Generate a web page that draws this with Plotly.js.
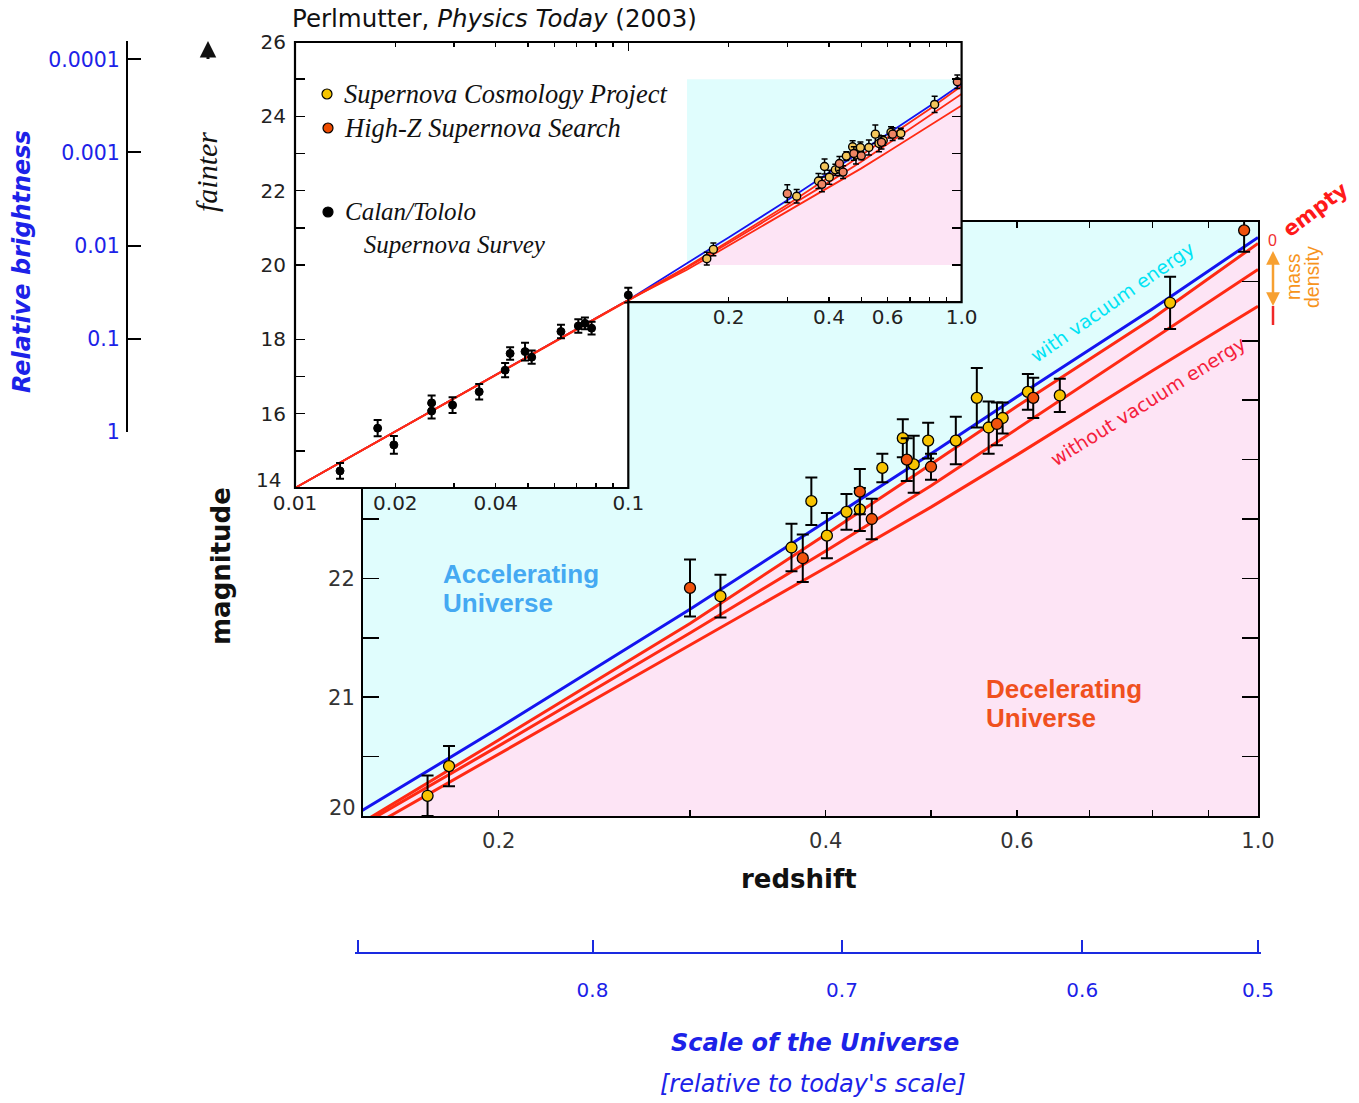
<!DOCTYPE html>
<html>
<head>
<meta charset="utf-8">
<script src="https://cdn.plot.ly/plotly-3.0.1.min.js"></script>
<style>
html,body{margin:0;padding:0;background:#fff;}
#chart{width:1359px;height:1103px;}
</style>
</head>
<body>
<div id="chart"></div>
<script>
// ================= DATA =================
// Supernova Cosmology Project (yellow)
const scpZ   = [0.172, 0.180, 0.320, 0.372, 0.388, 0.401, 0.418, 0.430, 0.451, 0.471, 0.482, 0.497, 0.527, 0.551, 0.565, 0.582, 0.614, 0.657, 0.830];
const scpMag = [20.17, 20.42, 21.85, 22.26, 22.65, 22.36, 22.56, 22.58, 22.93, 23.18, 22.96, 23.16, 23.16, 23.52, 23.27, 23.35, 23.57, 23.54, 24.32];
const scpErr = [0.17, 0.17, 0.18, 0.20, 0.20, 0.19, 0.15, 0.18, 0.12, 0.16, 0.24, 0.15, 0.20, 0.25, 0.22, 0.13, 0.15, 0.14, 0.22];
// High-Z Supernova Search (orange-red)
const hzZ   = [0.300, 0.381, 0.430, 0.441, 0.475, 0.500, 0.575, 0.621, 0.971];
const hzMag = [21.92, 22.17, 22.73, 22.50, 23.00, 22.94, 23.30, 23.52, 24.93];
const hzErr = [0.24, 0.20, 0.19, 0.17, 0.18, 0.11, 0.18, 0.17, 0.18];
// Calan/Tololo Supernova Survey (black, inset only)
const ctZ   = [0.01365, 0.0177, 0.0198, 0.0257, 0.0257, 0.0297, 0.0357, 0.0427, 0.0442, 0.0490, 0.0513, 0.0628, 0.0708, 0.0741, 0.0776, 0.100];
const ctMag = [14.46, 15.61, 15.16, 16.29, 16.07, 16.23, 16.59, 17.17, 17.62, 17.67, 17.52, 18.21, 18.36, 18.43, 18.30, 19.19];
const ctErr = [0.21, 0.22, 0.24, 0.20, 0.20, 0.21, 0.21, 0.19, 0.17, 0.24, 0.18, 0.18, 0.18, 0.16, 0.17, 0.20];
// Model curves (magnitude vs redshift)
const modelZ      = [0.01, 0.1, 0.15, 0.2, 0.3, 0.4, 0.5, 0.6, 0.8, 1.0];
const vacuumMag   = [14.0, 19.06, 20.05, 20.74, 21.74, 22.48, 23.05, 23.53, 24.27, 24.87]; // with vacuum energy
const emptyMag    = [14.0, 19.06, 19.95, 20.64, 21.62, 22.37, 22.96, 23.45, 24.19, 24.82]; // empty universe
const midMassMag  = [14.0, 19.06, 19.93, 20.59, 21.54, 22.23, 22.78, 23.26, 24.01, 24.60];
const fullMassMag = [14.0, 19.06, 19.87, 20.52, 21.44, 22.09, 22.60, 23.04, 23.75, 24.29]; // without vacuum energy

// Tick values / labels
const mainZTicks     = [0.2, 0.3, 0.4, 0.5, 0.6, 0.7, 0.8, 0.9, 1.0];
const mainZLabels    = ['0.2', '', '0.4', '', '0.6', '', '', '', '1.0'];
const mainMagTicks   = [20, 20.5, 21, 21.5, 22, 22.5, 23, 23.5, 24, 24.5, 25];
const mainMagLabels  = ['', '', '21', '', '22', '', '', '', '', '', ''];   // "20" drawn raised, below; 23-25 lie under the inset
const insetLowZTicks = [0.01, 0.02, 0.03, 0.04, 0.05, 0.06, 0.07, 0.08, 0.09, 0.1];
const insetLowZLabels= ['0.01', '0.02', '', '0.04', '', '', '', '', '', '0.1'];
const insetHighZTicks  = [0.2, 0.3, 0.4, 0.5, 0.6, 0.7, 0.8, 0.9, 1.0];
const insetHighZLabels = ['0.2', '', '0.4', '', '0.6', '', '', '', '1.0'];
const insetDecadeTicks = [0.01, 0.1, 1.0];
const insetMinorTicks  = [0.02, 0.03, 0.04, 0.05, 0.06, 0.07, 0.08, 0.09, 0.2, 0.3, 0.4, 0.5, 0.6, 0.7, 0.8, 0.9];
const insetUpperMagTicks  = [19, 20, 21, 22, 23, 24, 25, 26];
const insetUpperMagLabels = ['', '20', '', '22', '', '24', '', '26'];
const insetLowerMagTicks  = [14, 15, 16, 17, 18];
const insetLowerMagLabels = ['', '', '16', '', '18'];                           // "14" drawn raised, below
const brightnessTicks  = [1, 0.1, 0.01, 0.001, 0.0001];
const brightnessLabels = ['1', '0.1', '0.01', '0.001', '0.0001'];
const scaleTickZ      = [0.1485, 0.244, 0.414, 0.689, 1.0];
const scaleTickLabels = ['', '0.8', '0.7', '0.6', '0.5'];

// Axis windows
const mainZRange   = [0.15, 1.0];
const mainMagRange = [20, 25];

// ================= LAYOUT HELPERS =================
const W = 1359, H = 1103;
const PX = x => x / W;
const PY = y => 1 - y / H;
const lg = Math.log10;
const SANS  = 'Liberation Sans, Arial, Helvetica, sans-serif';
const DEJA  = 'DejaVu Sans, Verdana, sans-serif';
const SERIF = 'Liberation Serif, Times New Roman, serif';
const BLUE_TXT = '#1c22e8';
const CYAN_BG = '#e0fdfd', PINK_BG = '#fde4f5';
const LINE_BLUE = '#1414f0', LINE_RED = '#ff2a14';
const SCP_COLOR = '#f7c300', HZ_COLOR = '#f0520c';
const SCP_INSET = '#f3c65a', HZ_INSET = '#ee8463';

// inset geometry (pixels)
const insL = 295, insR = 961.6, insT = 42, insB = 488, insSplitX = 628.3;
const insPxPerMag = (insB - insT) / 12;           // 14..26
const insMagAt = py => 14 + (insB - py) / insPxPerMag;
const insSplitY = insB - 5 * insPxPerMag;         // magnitude 19
// main geometry
const mL = 363, mR = 1258, mT = 222, mB = 816;
const mainPxPerDec = (mR - mL) / (lg(mainZRange[1]) - lg(mainZRange[0]));
// scale-of-the-universe bar (slightly wider so its end ticks are kept)
const sL = 355, sR = 1261;

// ================= TRACES =================
const traces = [];
// main plot: decelerating (pink) region below the empty-universe curve
traces.push({x: modelZ, y: emptyMag, xaxis: 'x', yaxis: 'y', mode: 'lines', line: {width: 0},
  fill: 'tozeroy', fillcolor: PINK_BG, hoverinfo: 'skip'});
const curveSet = [[fullMassMag, LINE_RED], [midMassMag, LINE_RED], [emptyMag, LINE_RED], [vacuumMag, LINE_BLUE]];
curveSet.forEach(([m, c]) => traces.push({x: modelZ, y: m, xaxis: 'x', yaxis: 'y', mode: 'lines',
  line: {color: c, width: 3}, hoverinfo: 'skip'}));
const errStyle = (arr, th, w) => ({type: 'data', array: arr, visible: true, color: '#000', thickness: th, width: w});
traces.push({x: scpZ, y: scpMag, xaxis: 'x', yaxis: 'y', mode: 'markers', error_y: errStyle(scpErr, 2, 6),
  marker: {size: 11, color: SCP_COLOR, line: {color: '#000', width: 1.3}}, hoverinfo: 'skip'});
traces.push({x: hzZ, y: hzMag, xaxis: 'x', yaxis: 'y', mode: 'markers', error_y: errStyle(hzErr, 2, 6),
  marker: {size: 11, color: HZ_COLOR, line: {color: '#000', width: 1.3}}, hoverinfo: 'skip'});

// inset upper part (x2/y2)
const boxZ = modelZ.filter(z => z >= mainZRange[0]);
const boxEmpty = emptyMag.filter((m, i) => modelZ[i] >= mainZRange[0]);
traces.push({x: mainZRange, y: [mainMagRange[0], mainMagRange[0]], xaxis: 'x2', yaxis: 'y2', mode: 'lines',
  line: {width: 0}, hoverinfo: 'skip'});
traces.push({x: boxZ, y: boxEmpty, xaxis: 'x2', yaxis: 'y2', mode: 'lines', line: {width: 0},
  fill: 'tonexty', fillcolor: PINK_BG, hoverinfo: 'skip'});
const insetCurves = [[vacuumMag, LINE_BLUE], [fullMassMag, LINE_RED], [midMassMag, LINE_RED], [emptyMag, LINE_RED]];
['2', '3'].forEach(k => insetCurves.forEach(([m, c]) => traces.push({x: modelZ, y: m, xaxis: 'x' + k, yaxis: 'y' + k,
  mode: 'lines', line: {color: c, width: 1.8}, hoverinfo: 'skip'})));
traces.push({x: scpZ, y: scpMag, xaxis: 'x2', yaxis: 'y2', mode: 'markers', error_y: errStyle(scpErr, 1.5, 3),
  marker: {size: 8, color: SCP_INSET, line: {color: '#000', width: 1.4}}, hoverinfo: 'skip'});
traces.push({x: hzZ, y: hzMag, xaxis: 'x2', yaxis: 'y2', mode: 'markers', error_y: errStyle(hzErr, 1.5, 3),
  marker: {size: 8, color: HZ_INSET, line: {color: '#000', width: 1.4}}, hoverinfo: 'skip'});
['2', '3'].forEach(k => traces.push({x: ctZ, y: ctMag, xaxis: 'x' + k, yaxis: 'y' + k, mode: 'markers',
  error_y: errStyle(ctErr, 2, 4), marker: {size: 8, color: '#000', line: {color: '#000', width: 1}}, hoverinfo: 'skip'}));

// empty placeholder traces so that the extra (decorative) axes get a subplot and are drawn
[['x4', 'y2'], ['x2', 'y5'], ['x6', 'y4'], ['x5', 'y6']].forEach(([xa, ya]) =>
  traces.push({x: [null], y: [null], xaxis: xa, yaxis: ya, mode: 'markers', marker: {opacity: 0}, hoverinfo: 'skip'}));

// ================= AXES =================
const hidden = {showline: false, showticklabels: false, ticks: '', showgrid: false, zeroline: false, fixedrange: true};
const tickBase = {tickmode: 'array', showgrid: false, zeroline: false, fixedrange: true, tickcolor: '#000'};

const layout = {
  width: W, height: H,
  margin: {l: 0, r: 0, t: 0, b: 0, pad: 0},
  paper_bgcolor: '#ffffff', plot_bgcolor: '#ffffff',
  showlegend: false,
  font: {family: SANS, color: '#222', size: 20},
  // ---- main plot ----
  xaxis: Object.assign({}, tickBase, {type: 'log', domain: [PX(mL), PX(mR)], range: [lg(mainZRange[0]), lg(mainZRange[1])],
    anchor: 'y', tickvals: mainZTicks, ticktext: mainZLabels, ticks: 'inside', ticklen: 6, tickwidth: 1.5,
    showline: true, linecolor: '#000', linewidth: 2, mirror: 'ticks',
    tickfont: {family: DEJA, size: 21, color: '#333'}, ticklabelstandoff: 5}),
  yaxis: Object.assign({}, tickBase, {domain: [PY(mB), PY(mT)], range: mainMagRange, anchor: 'x',
    tickvals: mainMagTicks, ticktext: mainMagLabels, ticks: 'inside', ticklen: 16, tickwidth: 1.5,
    showline: true, linecolor: '#000', linewidth: 2, mirror: 'ticks',
    tickfont: {family: DEJA, size: 21, color: '#333'}, ticklabelstandoff: 2}),
  // ---- inset, upper part ----
  xaxis2: Object.assign({}, tickBase, {type: 'log', domain: [PX(insL), PX(insR)], range: [-2, 0], anchor: 'y2', side: 'top',
    tickvals: insetDecadeTicks, ticks: 'inside', ticklen: 9, tickwidth: 1.5, showticklabels: false, showline: false,
    minor: {tickmode: 'array', tickvals: insetMinorTicks, ticks: 'inside', ticklen: 5, tickwidth: 1.5, tickcolor: '#000', showgrid: false}}),
  xaxis4: Object.assign({}, tickBase, {type: 'log', overlaying: 'x2', range: [-2, 0], anchor: 'y2', side: 'bottom',
    tickvals: insetHighZTicks, ticktext: insetHighZLabels, ticks: 'inside', ticklen: 5, tickwidth: 1.5, showline: false,
    tickfont: {family: DEJA, size: 20, color: '#222'}, ticklabelstandoff: 1}),
  yaxis2: Object.assign({}, tickBase, {domain: [PY(insSplitY), PY(insT)], range: [insMagAt(insSplitY), 26], anchor: 'x2', side: 'left',
    tickvals: insetUpperMagTicks, ticktext: insetUpperMagLabels, ticks: 'inside', ticklen: 10, tickwidth: 1.5, showline: false,
    tickfont: {family: DEJA, size: 20, color: '#222'}, ticklabelstandoff: 8}),
  yaxis5: Object.assign({}, tickBase, {overlaying: 'y2', range: [insMagAt(insSplitY), 26], anchor: 'x2', side: 'right',
    tickvals: insetUpperMagTicks.slice(1, 7), ticks: 'inside', ticklen: 10, tickwidth: 1.5, showticklabels: false, showline: false}),
  // ---- inset, lower-left part ----
  xaxis3: Object.assign({}, tickBase, {type: 'log', domain: [PX(insL), PX(insSplitX)], range: [-2, -1], anchor: 'y3', side: 'bottom',
    tickvals: insetLowZTicks, ticktext: insetLowZLabels, ticks: 'inside', ticklen: 5, tickwidth: 1.5, showline: false,
    tickfont: {family: DEJA, size: 20, color: '#222'}, ticklabelstandoff: 1}),
  yaxis3: Object.assign({}, tickBase, {domain: [PY(insB), PY(insSplitY - 1)], range: [14, insMagAt(insSplitY - 1)], anchor: 'x3', side: 'left',
    tickvals: insetLowerMagTicks, ticktext: insetLowerMagLabels, ticks: 'inside', ticklen: 10, tickwidth: 1.5, showline: false,
    tickfont: {family: DEJA, size: 20, color: '#222'}, ticklabelstandoff: 8}),
  // ---- relative brightness scale ----
  xaxis6: Object.assign({}, hidden, {domain: [PX(128), PX(160)], range: [0, 1], anchor: 'y4'}),
  yaxis4: Object.assign({}, tickBase, {type: 'log', domain: [PY(431.7), PY(40.7)], range: [0, -4.2], anchor: 'x6', side: 'left',
    tickvals: brightnessTicks, ticktext: brightnessLabels, ticks: 'inside', ticklen: 13, tickwidth: 2,
    showline: true, linecolor: '#000', linewidth: 2,
    tickfont: {family: DEJA, size: 20.5, color: BLUE_TXT}, ticklabelstandoff: 2}),
  // ---- scale of the universe ----
  xaxis5: Object.assign({}, tickBase, {type: 'log', domain: [PX(sL), PX(sR)],
    range: [lg(mainZRange[0]) - (mL - sL) / mainPxPerDec, lg(mainZRange[1]) + (sR - mR) / mainPxPerDec], anchor: 'y6', side: 'bottom',
    tickvals: scaleTickZ, ticktext: scaleTickLabels, ticks: 'inside', ticklen: 12, tickwidth: 2, tickcolor: '#1a2ae0',
    showline: true, linecolor: '#1a2ae0', linewidth: 2,
    tickfont: {family: DEJA, size: 20, color: BLUE_TXT}, ticklabelstandoff: 19}),
  yaxis6: Object.assign({}, hidden, {domain: [PY(952), PY(930)], range: [0, 1], anchor: 'x5'}),
  shapes: [],
  annotations: []
};

// background rectangles
layout.shapes.push({type: 'rect', xref: 'x', yref: 'y', layer: 'below', x0: mainZRange[0], x1: mainZRange[1],
  y0: mainMagRange[0], y1: mainMagRange[1], fillcolor: CYAN_BG, line: {width: 0}});
layout.shapes.push({type: 'rect', xref: 'x2', yref: 'y2', layer: 'below', x0: mainZRange[0], x1: mainZRange[1],
  y0: mainMagRange[0], y1: mainMagRange[1], fillcolor: CYAN_BG, line: {width: 0}});
// inset L-shaped frame
const P = (x, y) => PX(x).toFixed(5) + ',' + PY(y).toFixed(5);
layout.shapes.push({type: 'path', xref: 'paper', yref: 'paper', layer: 'above',
  path: 'M' + P(insL, insT) + 'L' + P(insR, insT) + 'L' + P(insR, insSplitY) + 'L' + P(insSplitX, insSplitY) +
        'L' + P(insSplitX, insB) + 'L' + P(insL, insB) + 'Z',
  line: {color: '#000', width: 2.2}, fillcolor: 'rgba(0,0,0,0)'});
// legend keys in the inset
[[327, 94, '#f5c400'], [328, 128, '#ee4c00'], [328, 212, '#000']].forEach(([cx, cy, c]) =>
  layout.shapes.push({type: 'circle', xref: 'paper', yref: 'paper', layer: 'above',
    x0: PX(cx - 5), x1: PX(cx + 5), y0: PY(cy + 5), y1: PY(cy - 5), fillcolor: c, line: {color: '#000', width: 1.2}}));
// red tick below mass-density arrow
layout.shapes.push({type: 'line', xref: 'paper', yref: 'paper', layer: 'above',
  x0: PX(1273), x1: PX(1273), y0: PY(306), y1: PY(325), line: {color: '#f02828', width: 2.5}});

// ================= TEXT =================
const A = (text, x, y, font, extra) => Object.assign({xref: 'paper', yref: 'paper', x: PX(x), y: PY(y), text: text,
  showarrow: false, xanchor: 'center', yanchor: 'middle', font: Object.assign({family: SANS, size: 20, color: '#111'}, font)}, extra || {});
const NB = '\u00a0';
layout.annotations.push(
  A('Perlmutter, <i>Physics Today</i> (2003)', 290, 19, {family: DEJA, size: 24.5, color: '#111'}, {xanchor: 'left'}),
  A('<b><i>Relative brightness</i></b>', 22, 262, {family: DEJA, size: 24, color: BLUE_TXT}, {textangle: -90}),
  A('<i>fainter</i>', 206, 172, {family: SERIF, size: 30, color: '#111'}, {textangle: -90}),
  A('<b>magnitude</b>', 221, 566, {family: DEJA, size: 26, color: '#111'}, {textangle: -90}),
  A('<b>redshift</b>', 799, 879, {family: DEJA, size: 26, color: '#111'}),
  A('<b><i>Scale of the Universe</i></b>', 815, 1043, {family: DEJA, size: 24, color: BLUE_TXT}),
  A('<i>[relative to today\'s scale]</i>', 813, 1084, {family: DEJA, size: 24, color: BLUE_TXT}),
  A('20', 342, 808, {family: DEJA, size: 21, color: '#333'}),
  A('14', 268, 480, {family: DEJA, size: 20, color: '#222'}),
  A('<b>Accelerating</b>', 441, 574, {size: 26, color: '#45a9f2'}, {xanchor: 'left'}),
  A('<b>Universe</b>', 441, 603, {size: 26, color: '#45a9f2'}, {xanchor: 'left'}),
  A('<b>Decelerating</b>', 984, 689, {size: 26, color: '#f0501e'}, {xanchor: 'left'}),
  A('<b>Universe</b>', 984, 718, {size: 26, color: '#f0501e'}, {xanchor: 'left'}),
  A('with vacuum energy', 1112, 302, {family: DEJA, size: 19, color: '#00e4f4'}, {textangle: -35}),
  A('without vacuum energy', 1148, 401, {family: DEJA, size: 19, color: '#f5203c'}, {textangle: -32}),
  A('<b>empty</b>', 1315, 210, {family: DEJA, size: 21, color: '#ff1a1a'}, {textangle: -37}),
  A('0', 1272, 240, {size: 16, color: '#f03030'}),
  A('mass', 1293, 277, {size: 19.5, color: '#f7941d'}, {textangle: -90}),
  A('density', 1312, 277, {size: 19.5, color: '#f7941d'}, {textangle: -90}),
  A('<i>Supernova Cosmology Project</i>', 342, 94, {family: SERIF, size: 26.5, color: '#111'}, {xanchor: 'left'}),
  A('<i>High-Z Supernova Search</i>', 342, 128, {family: SERIF, size: 26.5, color: '#111'}, {xanchor: 'left'}),
  A('<i>Calan/Tololo</i><br>' + NB + NB + NB + '<i>Supernova Survey</i>', 343, 228,
    {family: SERIF, size: 25, color: '#111'}, {xanchor: 'left', align: 'left'})
);
// "fainter" arrow
layout.annotations.push({xref: 'paper', yref: 'paper', x: PX(208), y: PY(41), ax: 0, ay: 20, text: ' ',
  font: {size: 1}, showarrow: true, arrowhead: 2, arrowsize: 1.1, arrowwidth: 3, arrowcolor: '#111'});
// mass density double arrow
layout.annotations.push({xref: 'paper', yref: 'paper', x: PX(1273), y: PY(251), ax: 0, ay: 57, text: ' ',
  font: {size: 1}, showarrow: true, arrowhead: 2, arrowside: 'end+start', arrowsize: 1.1, arrowwidth: 2.5, arrowcolor: '#f7a030'});

Plotly.newPlot('chart', traces, layout, {staticPlot: true});
</script>
</body>
</html>
